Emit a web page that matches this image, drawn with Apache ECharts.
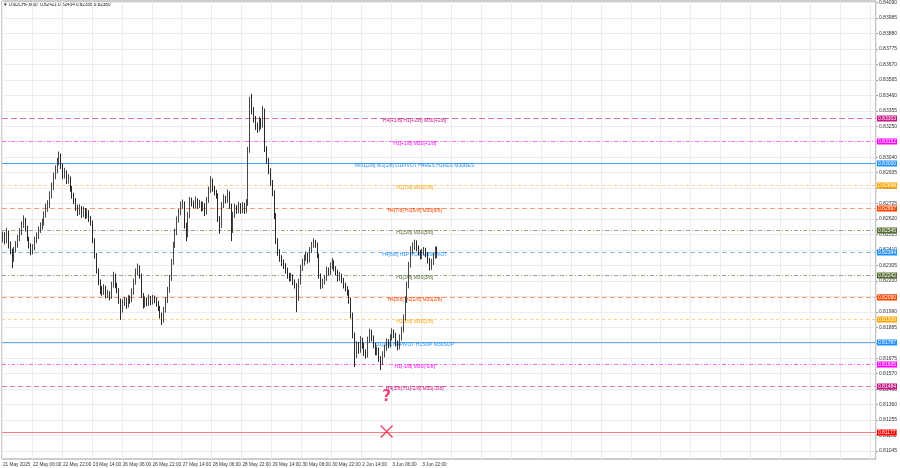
<!DOCTYPE html>
<html><head><meta charset="utf-8">
<script src="https://cdn.jsdelivr.net/npm/echarts@6/dist/echarts.min.js"></script>
<style>html,body{margin:0;padding:0;background:#fff}#c{width:900px;height:468px}</style>
</head><body><div id="c"></div><script>
// ---------- data ----------
const symbolName = 'USDCHF,M30';
const lastBar = [0.82421, 0.82434, 0.82356, 0.82380];
const timeLabels = ['21 May 2025','22 May 06:00','22 May 22:00','23 May 14:00','26 May 06:00','26 May 22:00','27 May 14:00','28 May 06:00','28 May 22:00','29 May 14:00','30 May 06:00','30 May 22:00','2 Jun 14:00','3 Jun 06:00','3 Jun 22:00'];
const priceTicks = [0.84090,0.83985,0.83880,0.83775,0.83670,0.83565,0.83460,0.83355,0.83250,0.83145,0.83040,0.82935,0.82830,0.82725,0.82620,0.82515,0.82410,0.82305,0.82200,0.82095,0.81990,0.81885,0.81780,0.81675,0.81570,0.81465,0.81360,0.81255,0.81150,0.81045];
const opens = [
0.82490,0.82509,0.82475,0.82529,0.82441,0.82407,0.82353,0.82407,
0.82441,0.82489,0.82529,0.82577,0.82611,0.82557,0.82489,0.82441,
0.82407,0.82428,0.82475,0.82502,0.82543,0.82570,0.82590,0.82644,
0.82699,0.82712,0.82780,0.82834,0.82909,0.82949,0.83003,0.83051,
0.82983,0.82915,0.82936,0.82881,0.82895,0.82827,0.82780,0.82746,
0.82699,0.82665,0.82692,0.82651,0.82678,0.82644,0.82665,0.82624,
0.82597,0.82475,0.82374,0.82272,0.82191,0.82137,0.82123,0.82150,
0.82103,0.82116,0.82089,0.82170,0.82238,0.82170,0.82137,0.82069,
0.82001,0.82049,0.82069,0.82035,0.82083,0.82069,0.82123,0.82191,
0.82259,0.82292,0.82238,0.82103,0.82035,0.82069,0.82049,0.82083,
0.82055,0.82083,0.82069,0.82049,0.82015,0.81968,0.81934,0.82001,
0.82069,0.82137,0.82218,0.82326,0.82441,0.82529,0.82611,0.82665,
0.82712,0.82726,0.82577,0.82509,0.82644,0.82746,0.82726,0.82712,
0.82746,0.82712,0.82726,0.82692,0.82712,0.82665,0.82746,0.82814,
0.82881,0.82827,0.82800,0.82780,0.82624,0.82577,0.82712,0.82760,
0.82746,0.82793,0.82712,0.82543,0.82644,0.82699,0.82678,0.82712,
0.82678,0.82712,0.82678,0.82726,0.83085,0.83423,0.83355,0.83301,
0.83254,0.83233,0.83288,0.83254,0.83355,0.83098,0.83017,0.82949,
0.82868,0.82800,0.82644,0.82475,0.82394,0.82353,0.82326,0.82306,
0.82272,0.82238,0.82218,0.82231,0.82191,0.82170,0.82083,0.82191,
0.82286,0.82326,0.82353,0.82374,0.82340,0.82407,0.82441,0.82462,
0.82448,0.82374,0.82238,0.82170,0.82191,0.82218,0.82272,0.82259,
0.82299,0.82326,0.82286,0.82259,0.82218,0.82238,0.82204,0.82170,
0.82150,0.82123,0.82069,0.81968,0.81832,0.81697,0.81764,0.81730,
0.81798,0.81764,0.81717,0.81697,0.81798,0.81852,0.81812,0.81764,
0.81717,0.81730,0.81676,0.81649,0.81697,0.81744,0.81785,0.81764,
0.81812,0.81852,0.81832,0.81778,0.81751,0.81812,0.81866,0.81947,
0.82069,0.82170,0.82306,0.82407,0.82435,0.82455,0.82421,0.82394,
0.82367,0.82394,0.82407,0.82380,0.82340,0.82299,0.82326,0.82367,
0.82407];
const closes = [
0.82509,0.82475,0.82529,0.82441,0.82407,0.82353,0.82407,0.82441,
0.82489,0.82529,0.82577,0.82611,0.82557,0.82489,0.82441,0.82407,
0.82428,0.82475,0.82502,0.82543,0.82570,0.82590,0.82644,0.82699,
0.82712,0.82780,0.82834,0.82909,0.82949,0.83003,0.83051,0.82983,
0.82915,0.82936,0.82881,0.82895,0.82827,0.82780,0.82746,0.82699,
0.82665,0.82692,0.82651,0.82678,0.82644,0.82665,0.82624,0.82597,
0.82475,0.82374,0.82272,0.82191,0.82137,0.82123,0.82150,0.82103,
0.82116,0.82089,0.82170,0.82238,0.82170,0.82137,0.82069,0.82001,
0.82049,0.82069,0.82035,0.82083,0.82069,0.82123,0.82191,0.82259,
0.82292,0.82238,0.82103,0.82035,0.82069,0.82049,0.82083,0.82055,
0.82083,0.82069,0.82049,0.82015,0.81968,0.81934,0.82001,0.82069,
0.82137,0.82218,0.82326,0.82441,0.82529,0.82611,0.82665,0.82712,
0.82726,0.82577,0.82509,0.82644,0.82746,0.82726,0.82712,0.82746,
0.82712,0.82726,0.82692,0.82712,0.82665,0.82746,0.82814,0.82881,
0.82827,0.82800,0.82780,0.82624,0.82577,0.82712,0.82760,0.82746,
0.82793,0.82712,0.82543,0.82644,0.82699,0.82678,0.82712,0.82678,
0.82712,0.82678,0.82726,0.83085,0.83423,0.83355,0.83301,0.83254,
0.83233,0.83288,0.83254,0.83355,0.83098,0.83017,0.82949,0.82868,
0.82800,0.82644,0.82475,0.82394,0.82353,0.82326,0.82306,0.82272,
0.82238,0.82218,0.82231,0.82191,0.82170,0.82083,0.82191,0.82286,
0.82326,0.82353,0.82374,0.82340,0.82407,0.82441,0.82462,0.82448,
0.82374,0.82238,0.82170,0.82191,0.82218,0.82272,0.82259,0.82299,
0.82326,0.82286,0.82259,0.82218,0.82238,0.82204,0.82170,0.82150,
0.82123,0.82069,0.81968,0.81832,0.81697,0.81764,0.81730,0.81798,
0.81764,0.81717,0.81697,0.81798,0.81852,0.81812,0.81764,0.81717,
0.81730,0.81676,0.81649,0.81697,0.81744,0.81785,0.81764,0.81812,
0.81852,0.81832,0.81778,0.81751,0.81812,0.81866,0.81947,0.82069,
0.82170,0.82306,0.82407,0.82435,0.82455,0.82421,0.82394,0.82367,
0.82394,0.82407,0.82380,0.82340,0.82299,0.82326,0.82367,0.82407,
0.82380];
const highs = [
0.82535,0.82530,0.82560,0.82541,0.82468,0.82420,0.82430,0.82470,
0.82512,0.82558,0.82605,0.82645,0.82628,0.82575,0.82500,0.82455,
0.82450,0.82500,0.82530,0.82570,0.82598,0.82622,0.82672,0.82725,
0.82748,0.82808,0.82868,0.82935,0.82985,0.83035,0.83078,0.83065,
0.82998,0.82968,0.82950,0.82925,0.82910,0.82845,0.82798,0.82762,
0.82718,0.82720,0.82708,0.82705,0.82695,0.82690,0.82680,0.82640,
0.82610,0.82490,0.82390,0.82285,0.82210,0.82165,0.82178,0.82168,
0.82140,0.82130,0.82195,0.82262,0.82250,0.82188,0.82150,0.82080,
0.82075,0.82092,0.82085,0.82105,0.82100,0.82150,0.82215,0.82285,
0.82318,0.82305,0.82250,0.82118,0.82095,0.82085,0.82108,0.82098,
0.82105,0.82100,0.82085,0.82065,0.82030,0.81985,0.82025,0.82090,
0.82160,0.82240,0.82350,0.82465,0.82555,0.82638,0.82690,0.82740,
0.82752,0.82740,0.82595,0.82668,0.82770,0.82765,0.82745,0.82772,
0.82760,0.82750,0.82740,0.82738,0.82728,0.82770,0.82840,0.82910,
0.82895,0.82845,0.82818,0.82795,0.82640,0.82735,0.82788,0.82778,
0.82820,0.82808,0.82725,0.82668,0.82725,0.82715,0.82738,0.82728,
0.82735,0.82730,0.82755,0.83110,0.83450,0.83470,0.83380,0.83320,
0.83275,0.83315,0.83305,0.83389,0.83370,0.83115,0.83035,0.82965,
0.82885,0.82815,0.82660,0.82490,0.82415,0.82375,0.82345,0.82320,
0.82290,0.82255,0.82255,0.82245,0.82210,0.82185,0.82215,0.82310,
0.82350,0.82378,0.82400,0.82390,0.82430,0.82465,0.82490,0.82478,
0.82460,0.82385,0.82250,0.82215,0.82240,0.82298,0.82290,0.82325,
0.82355,0.82340,0.82300,0.82275,0.82262,0.82250,0.82220,0.82188,
0.82165,0.82140,0.82085,0.81985,0.81850,0.81790,0.81785,0.81825,
0.81815,0.81780,0.81735,0.81822,0.81875,0.81868,0.81830,0.81780,
0.81755,0.81748,0.81690,0.81722,0.81768,0.81810,0.81805,0.81838,
0.81878,0.81870,0.81848,0.81795,0.81838,0.81890,0.81972,0.82095,
0.82195,0.82330,0.82435,0.82462,0.82480,0.82475,0.82440,0.82410,
0.82418,0.82430,0.82425,0.82395,0.82355,0.82350,0.82390,0.82432,
0.82434];
const lows = [
0.82462,0.82448,0.82455,0.82420,0.82380,0.82286,0.82330,0.82392,
0.82425,0.82470,0.82510,0.82560,0.82535,0.82470,0.82420,0.82375,
0.82380,0.82410,0.82455,0.82485,0.82525,0.82548,0.82575,0.82630,
0.82670,0.82695,0.82760,0.82815,0.82890,0.82930,0.82985,0.82960,
0.82890,0.82895,0.82858,0.82860,0.82805,0.82758,0.82722,0.82676,
0.82640,0.82648,0.82628,0.82632,0.82620,0.82625,0.82600,0.82575,
0.82455,0.82350,0.82250,0.82170,0.82110,0.82098,0.82105,0.82080,
0.82085,0.82068,0.82078,0.82155,0.82150,0.82115,0.82045,0.81935,
0.81985,0.82030,0.82010,0.82020,0.82045,0.82055,0.82105,0.82175,
0.82240,0.82215,0.82085,0.82012,0.82020,0.82028,0.82030,0.82035,
0.82040,0.82048,0.82025,0.81995,0.81945,0.81900,0.81918,0.81985,
0.82050,0.82120,0.82200,0.82310,0.82425,0.82510,0.82595,0.82645,
0.82690,0.82555,0.82470,0.82495,0.82625,0.82705,0.82690,0.82695,
0.82690,0.82695,0.82670,0.82675,0.82640,0.82650,0.82730,0.82798,
0.82805,0.82780,0.82758,0.82600,0.82520,0.82560,0.82695,0.82725,
0.82730,0.82690,0.82470,0.82525,0.82628,0.82655,0.82660,0.82655,
0.82660,0.82655,0.82660,0.82710,0.83070,0.83330,0.83275,0.83225,
0.83205,0.83215,0.83230,0.83240,0.83075,0.82995,0.82925,0.82845,
0.82775,0.82620,0.82450,0.82370,0.82330,0.82300,0.82280,0.82250,
0.82215,0.82195,0.82198,0.82170,0.82148,0.81988,0.82065,0.82175,
0.82268,0.82305,0.82335,0.82318,0.82325,0.82390,0.82425,0.82425,
0.82355,0.82215,0.82145,0.82150,0.82175,0.82200,0.82238,0.82240,
0.82280,0.82265,0.82238,0.82195,0.82200,0.82185,0.82148,0.82128,
0.82100,0.82045,0.81945,0.81810,0.81615,0.81675,0.81705,0.81712,
0.81740,0.81690,0.81672,0.81680,0.81780,0.81790,0.81742,0.81695,
0.81695,0.81650,0.81595,0.81630,0.81680,0.81725,0.81742,0.81748,
0.81795,0.81812,0.81755,0.81728,0.81735,0.81795,0.81850,0.81930,
0.82050,0.82150,0.82290,0.82385,0.82410,0.82400,0.82372,0.82345,
0.82350,0.82375,0.82360,0.82318,0.82270,0.82275,0.82308,0.82350,
0.82356];
const levelValues = [0.83303,0.83152,0.83000,0.82848,0.82697,0.82545,0.82394,0.82242,0.82090,0.81939,0.81787,0.81635,0.81484,0.81177];
const levelTexts = ['H4[+1/8] H1[+2/8] M30[+2/8]','H1[+1/8] M30[+1/8]','MN1[2/8] W1[2/8] D1PIVOT H4RES H1RES M30RES','H1[7/8] M30[7/8]','H4[7/8] H1[6/8] M30[6/8]','H1[5/8] M30[5/8]','H4[6/8] H1PIVOT M30PIVOT','H1[3/8] M30[3/8]','H4[5/8] H1[2/8] M30[2/8]','H1[1/8] M30[1/8]','D1[3/8] H4PIVOT H1SUP M30SUP','H1[-1/8] M30[-1/8]','H4[3/8] H1[-2/8] M30[-2/8]',''];
const targetValue = 0.81177;

// ---------- styles / layout ----------
const levelColors = ['#C71585','#FF00FF','#1E90FF','#FFA500','#FF4500','#556B2F','#1E90FF','#556B2F','#FF4500','#FFA500','#1E90FF','#FF00FF','#C71585','#FF0000'];
const lineColors = ['#e070b0','#ff66ff','#4f9ef0','#ffcf8a','#ff9a70','#9aa585','#80b8f5','#9aa585','#ff9a70','#ffcf8a','#6aaaf2','#ff66ff','#e070b0','#ff8080'];
const levelDash = [[6,3],[4,2,1,2],null,[3,3],[5,3],[4,2,1,2],[5,3],[4,2,1,2],[5,3],[3,3],null,[4,2,1,2],[5,3],null];
const SLOTS = 467, LABEL_EVERY = 16, TEXT_IDX = 220, TARGET_IDX = 205;
const FONT = 'Liberation Sans';

const categories = [];
for (let i = 0; i < SLOTS; i++) categories.push(String(i));
const candleData = opens.map((o, i) => [o, closes[i], lows[i], highs[i]]);

function renderLevel(params, api) {
  const i = params.dataIndex;
  const v = api.value(1);
  const cs = params.coordSys;
  const y = Math.round(api.coord([0, v])[1]) + 0.5;
  const tx = api.coord([api.value(0), v])[0];
  const children = [
    {type: 'line', shape: {x1: cs.x, y1: y, x2: cs.x + cs.width, y2: y},
      style: {stroke: lineColors[i], lineWidth: 1, lineDash: levelDash[i] || null}, z2: 1},
    {type: 'text', x: cs.x + cs.width + 1, y: y, z2: 5,
      style: {text: v.toFixed(5), fill: '#fff', backgroundColor: levelColors[i], padding: [1, 1, 0, 1],
        font: '5px "Liberation Sans"', verticalAlign: 'middle', align: 'left'}}
  ];
  if (levelTexts[i]) {
    children.push({type: 'text', x: tx, y: y + 2, z2: 4,
      style: {text: levelTexts[i], fill: levelColors[i], font: '5px "Liberation Sans"', align: 'center', verticalAlign: 'middle'}});
  }
  return {type: 'group', children};
}

const chart = echarts.init(document.getElementById('c'), null, {renderer: 'canvas'});
chart.setOption({
  animation: false,
  backgroundColor: '#fff',
  grid: {left: 2, right: 22, top: 1, bottom: 9, show: true, borderColor: '#9a9a9a', borderWidth: 1},
  graphic: [{type: 'text', left: 3, top: 2, style: {text: '\u25BC ' + symbolName + '  ' + lastBar.map(v => v.toFixed(5)).join(' '), font: '4.6px "Liberation Sans"', fill: '#222'}}],
  xAxis: {
    type: 'category', data: categories, boundaryGap: true,
    axisLine: {show: false}, axisTick: {show: false},
    axisLabel: {interval: (i) => i % LABEL_EVERY === 0, formatter: (v, i) => (i % LABEL_EVERY === 0 && timeLabels[i / LABEL_EVERY]) || '',
      align: 'left', fontSize: 4.7, color: '#333', margin: 3, fontFamily: FONT},
    splitLine: {show: true, interval: (i) => i % LABEL_EVERY === 0, lineStyle: {color: '#ececec', width: 1}}
  },
  yAxis: {
    type: 'value', position: 'right', min: 0.80991, max: 0.84100, scale: true,
    axisLine: {show: false},
    axisTick: {show: true, length: 2, customValues: priceTicks, lineStyle: {color: '#999'}},
    axisLabel: {customValues: priceTicks, formatter: (v) => v.toFixed(5), fontSize: 5, color: '#333', margin: 3, fontFamily: FONT},
    splitLine: {show: true, lineStyle: {color: '#ececec', width: 1}}
  },
  series: [
    {
      type: 'custom', silent: true, z: 2, clip: false,
      data: levelValues.map((v) => [TEXT_IDX, v]),
      encode: {x: 0, y: 1},
      renderItem: renderLevel
    },
    {
      type: 'candlestick', data: candleData, barWidth: 1.3, z: 3,
      itemStyle: {color: '#222', color0: '#111', borderColor: '#333', borderColor0: '#111', borderWidth: 0.9}
    },
    {
      type: 'scatter', silent: true, z: 5,
      symbol: 'path://M0 0L10 10M10 0L0 10', symbolSize: 12,
      itemStyle: {color: 'none', borderColor: '#e8194b', borderWidth: 1.4},
      data: [[TARGET_IDX, targetValue]],
      label: {show: true, position: 'inside', offset: [0, -34], formatter: '?', color: '#e8194b', textBorderWidth: 0, fontSize: 15, fontWeight: 'bold', fontFamily: 'DejaVu Sans'}
    }
  ]
});
</script></body></html>
